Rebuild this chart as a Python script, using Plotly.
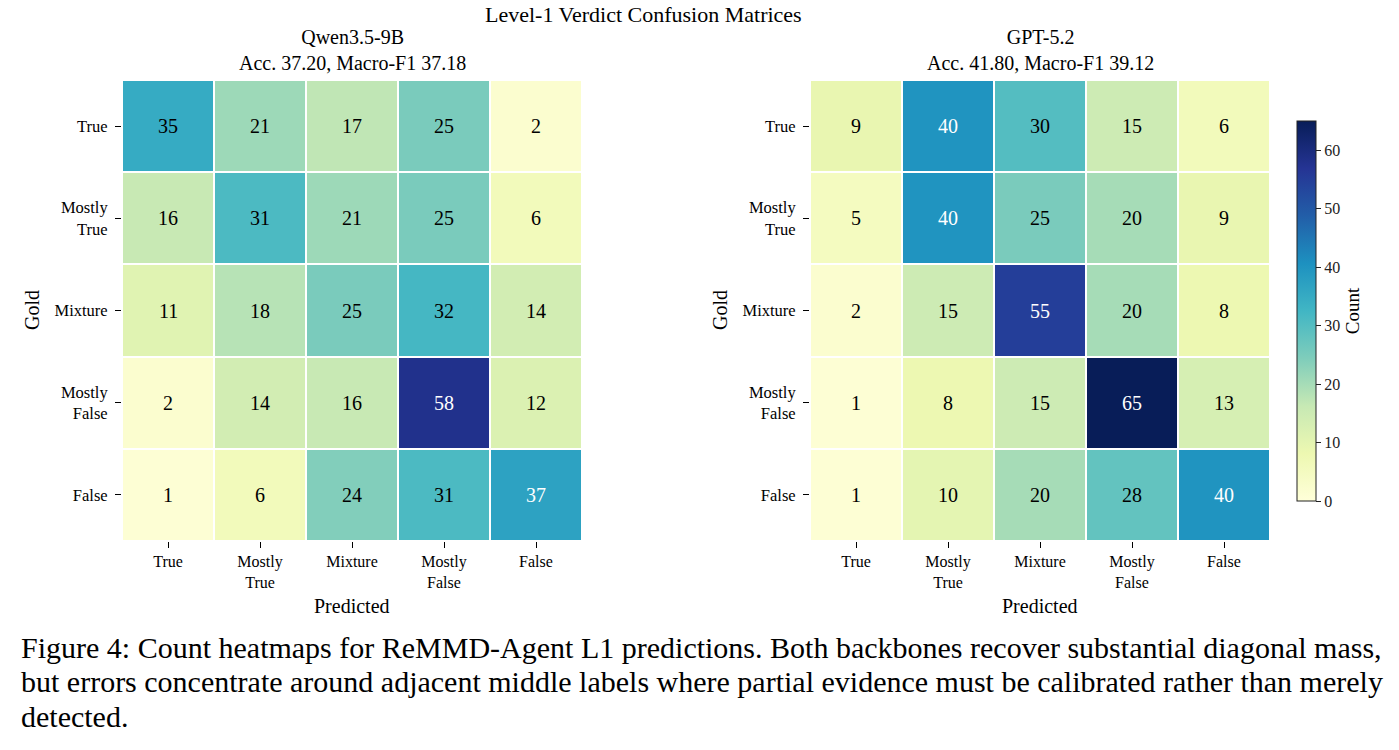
import plotly.graph_objects as go

labels = ["True", "Mostly True", "Mixture", "Mostly False", "False"]
tick_text = ["True", "Mostly<br>True", "Mixture", "Mostly<br>False", "False"]

qwen_counts = [
    [35, 21, 17, 25, 2],
    [16, 31, 21, 25, 6],
    [11, 18, 25, 32, 14],
    [2, 14, 16, 58, 12],
    [1, 6, 24, 31, 37],
]
gpt_counts = [
    [9, 40, 30, 15, 6],
    [5, 40, 25, 20, 9],
    [2, 15, 55, 20, 8],
    [1, 8, 15, 65, 13],
    [1, 10, 20, 28, 40],
]
panel_titles = ["Qwen3.5-9B<br>Acc. 37.20, Macro-F1 37.18",
                "GPT-5.2<br>Acc. 41.80, Macro-F1 39.12"]
suptitle = "Level-1 Verdict Confusion Matrices"
caption_lines = [
    "Figure 4: Count heatmaps for ReMMD-Agent L1 predictions. Both backbones recover substantial diagonal mass,",
    "but errors concentrate around adjacent middle labels where partial evidence must be calibrated rather than merely",
    "detected.",
]

FONT = "Liberation Serif"
ZMIN, ZMAX = 0, 65
WHITE_TEXT_FROM = 36  # cells at or above this count get white text
W, H = 1399, 750


def px_x(x):
    return x / W


def px_y(y):
    return 1 - y / H


fig = go.Figure()

domains = [(122, 582), (810, 1270)]
y_dom = [px_y(541), px_y(80)]

annotations = []
for i, counts in enumerate([qwen_counts, gpt_counts]):
    xa = "x" if i == 0 else "x2"
    ya = "y" if i == 0 else "y2"
    fig.add_trace(go.Heatmap(
        z=counts, x=labels, y=labels,
        colorscale="YlGnBu", zmin=ZMIN, zmax=ZMAX,
        xgap=2, ygap=2,
        xaxis=xa, yaxis=ya,
        showscale=(i == 1),
        colorbar=dict(
            x=px_x(1297), xanchor="left", xpad=0, ypad=0,
            y=px_y(311), yanchor="middle",
            thickness=19, len=380, lenmode="pixels",
            outlinewidth=1, outlinecolor="#222",
            tickvals=[0, 10, 20, 30, 40, 50, 60],
            ticks="outside", ticklen=5, tickcolor="#222",
            tickprefix=" ",
            tickfont=dict(family=FONT, size=16, color="#222"),
            title=dict(text="Count", side="right",
                       font=dict(family=FONT, size=19, color="black")),
        ),
        hoverongaps=False,
    ))
    for r, row in enumerate(counts):
        for c, v in enumerate(row):
            annotations.append(dict(
                x=labels[c], y=labels[r], xref=xa, yref=ya,
                text=str(v), showarrow=False,
                font=dict(family=FONT, size=20,
                          color="white" if v >= WHITE_TEXT_FROM else "black"),
            ))
    x0, x1 = domains[i]
    cx = (x0 + x1) / 2
    annotations.append(dict(
        x=px_x(cx), y=px_y(50), xref="paper", yref="paper",
        xanchor="center", yanchor="middle", text=panel_titles[i], showarrow=False,
        font=dict(family=FONT, size=20, color="black"),
    ))
    annotations.append(dict(
        x=px_x(cx), y=px_y(606), xref="paper", yref="paper",
        xanchor="center", yanchor="middle", text="Predicted", showarrow=False,
        font=dict(family=FONT, size=20, color="black"),
    ))
    annotations.append(dict(
        x=px_x(x0 - 90), y=px_y(310), xref="paper", yref="paper",
        xanchor="center", yanchor="middle", text="Gold", showarrow=False,
        textangle=-90, font=dict(family=FONT, size=20, color="black"),
    ))

annotations.append(dict(
    x=px_x(643), y=1, xref="paper", yref="paper",
    xanchor="center", yanchor="top", text=suptitle, showarrow=False,
    font=dict(family=FONT, size=22, color="black"),
))
for k, line in enumerate(caption_lines):
    annotations.append(dict(
        x=px_x(19), y=px_y(647 + 34.5 * k), xref="paper", yref="paper",
        xanchor="left", yanchor="middle", text=line, showarrow=False,
        font=dict(family=FONT, size=30, color="black"),
    ))

axis_common = dict(
    showgrid=False, zeroline=False, showline=False,
    ticks="outside", ticklen=6, tickwidth=1, tickcolor="black",
    tickvals=labels, ticktext=tick_text,
)
x_axis = dict(ticklabelstandoff=0,
              tickfont=dict(family=FONT, size=16, color="black"), **axis_common)
y_axis = dict(ticklabelstandoff=4, autorange="reversed",
              tickfont=dict(family=FONT, size=16.5, color="black"), **axis_common)

fig.update_layout(
    width=W, height=H,
    margin=dict(l=0, r=0, t=0, b=0),
    paper_bgcolor="white", plot_bgcolor="white",
    xaxis=dict(domain=[px_x(domains[0][0]), px_x(domains[0][1])], anchor="y", **x_axis),
    yaxis=dict(domain=y_dom, anchor="x", **y_axis),
    xaxis2=dict(domain=[px_x(domains[1][0]), px_x(domains[1][1])], anchor="y2", **x_axis),
    yaxis2=dict(domain=y_dom, anchor="x2", **y_axis),
    annotations=annotations,
    showlegend=False,
)

fig.write_html("out.html")
